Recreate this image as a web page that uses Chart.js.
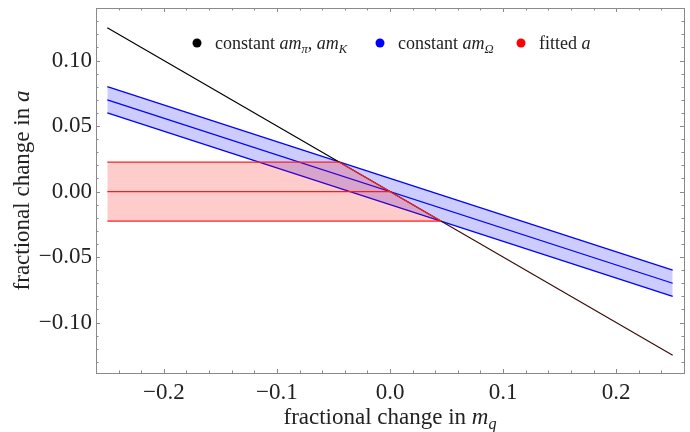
<!DOCTYPE html>
<html><head><meta charset="utf-8">
<script src="https://cdn.jsdelivr.net/npm/chart.js@4.4.1/dist/chart.umd.min.js"></script>
<style>html,body{margin:0;padding:0;background:#fff}canvas{display:block}</style>
</head><body>
<canvas id="c" width="690" height="432"></canvas>
<script>
// ---- data ----
const mqBlack = [-0.25, -0.045, 0.045, 0.25];          // fractional change in m_q
const constPiK = [0.125, 0.0225, -0.0225, -0.125];    // constant am_pi, am_K
const mqOmega = [-0.25, 0.25];
const omegaCenter = [0.07, -0.07];                    // constant am_Omega
const omegaUpper = [0.08, -0.06];
const omegaLower = [0.06, -0.08];
const fitEdgeX = [-0.25, -0.045, 0.045];              // fitted a, upper edge meeting the black line
const fitEdgeY = [0.0225, 0.0225, -0.0225];
const fitCenterX = [-0.25, 0];
const fitCenterY = [0, 0];
const fitLowerX = [-0.25, 0.045];
const fitLowerY = [-0.0225, -0.0225];
const xTicks = [-0.2, -0.1, 0, 0.1, 0.2];
const yTicks = [-0.1, -0.05, 0, 0.05, 0.1];

const pts = (xs, ys) => xs.map((x, i) => ({x, y: ys[i]}));
const SERIF = "'Liberation Serif', 'DejaVu Serif', serif";
const fmt = d => v => (v < 0 ? '\u2212' : '') + Math.abs(v).toFixed(d);

const base = {showLine: true, pointRadius: 0, tension: 0, fill: false};
const RED = '#ff2020', BLUE = '#0000ff';

function drawRuns(ctx, runs, x, y, size, align) {
  let w = 0;
  const meas = runs.map(r => {
    const s = r.sub ? size * 0.7 : size;
    ctx.font = (r.it ? 'italic ' : '') + s + 'px ' + SERIF;
    const m = ctx.measureText(r.t).width; w += m; return {r, s, m};
  });
  let cx = align === 'center' ? x - w / 2 : x;
  ctx.textAlign = 'left'; ctx.textBaseline = 'alphabetic';
  for (const {r, s, m} of meas) {
    ctx.font = (r.it ? 'italic ' : '') + s + 'px ' + SERIF;
    ctx.fillText(r.t, cx, y + (r.sub ? size * 0.22 : 0));
    cx += m;
  }
}

const framePlugin = {
  id: 'frame',
  afterDraw(chart) {
    const {ctx, chartArea: a, scales: {x, y}} = chart;
    ctx.save();
    ctx.strokeStyle = '#8a8a8a'; ctx.lineWidth = 1;
    ctx.strokeRect(Math.round(a.left) + 0.5, Math.round(a.top) + 0.5, Math.round(a.right - a.left), Math.round(a.bottom - a.top));
    ctx.beginPath();
    for (let k = -13; k <= 13; k++) {
      const v = k * 0.02, px = Math.round(x.getPixelForValue(v)) + 0.5;
      const L = (k % 5 === 0) ? 4 : 2.5;
      ctx.moveTo(px, a.bottom); ctx.lineTo(px, a.bottom - L);
      ctx.moveTo(px, a.top); ctx.lineTo(px, a.top + L);
    }
    for (let k = -13; k <= 14; k++) {
      const v = k * 0.01, py = Math.round(y.getPixelForValue(v)) + 0.5;
      if (py < a.top || py > a.bottom) continue;
      const L = (k % 5 === 0) ? 4 : 2.5;
      ctx.moveTo(a.left, py); ctx.lineTo(a.left + L, py);
      ctx.moveTo(a.right, py); ctx.lineTo(a.right - L, py);
    }
    ctx.stroke();
    ctx.fillStyle = '#222';
    // axis titles
    drawRuns(ctx, [{t: 'fractional change in '}, {t: 'm', it: true}, {t: 'q', it: true, sub: true}], (a.left + a.right) / 2, 424, 23, 'center');
    ctx.save();
    ctx.translate(29, (a.top + a.bottom) / 2);
    ctx.rotate(-Math.PI / 2);
    drawRuns(ctx, [{t: 'fractional change in '}, {t: 'a', it: true}], 0, 0, 23, 'center');
    ctx.restore();
    // legend
    const items = [
      {c: '#000', x: 197, runs: [{t: 'constant '}, {t: 'am', it: true}, {t: '\u03c0', it: true, sub: true}, {t: ', '}, {t: 'am', it: true}, {t: 'K', it: true, sub: true}]},
      {c: '#0000ff', x: 380, runs: [{t: 'constant '}, {t: 'am', it: true}, {t: '\u03a9', it: true, sub: true}]},
      {c: '#ff0000', x: 521, runs: [{t: 'fitted '}, {t: 'a', it: true}]}
    ];
    for (const it of items) {
      ctx.fillStyle = it.c;
      ctx.beginPath(); ctx.arc(it.x, 43, 4.5, 0, Math.PI * 2); ctx.fill();
      ctx.fillStyle = '#222';
      drawRuns(ctx, it.runs, it.x + 18, 49, 18, 'left');
    }
    ctx.restore();
  }
};

new Chart(document.getElementById('c'), {
  type: 'scatter',
  data: {
    datasets: [
      {...base, data: pts(fitEdgeX, fitEdgeY), borderColor: RED, borderWidth: 1.2,
        fill: {value: -0.0225}, backgroundColor: 'rgba(255,0,0,0.2)'},
      {...base, data: pts(fitCenterX, fitCenterY), borderColor: RED, borderWidth: 1.2},
      {...base, data: pts(fitLowerX, fitLowerY), borderColor: RED, borderWidth: 1.2},
      {...base, data: pts(mqBlack, constPiK), borderColor: '#000', borderWidth: 1.2,
        segment: {borderColor: c => c.p0.parsed.x > 0.04 ? '#3a0e0a' : '#000'}},
      {...base, data: pts(mqOmega, omegaUpper), borderColor: BLUE, borderWidth: 1.3,
        fill: '+2', backgroundColor: 'rgba(0,0,255,0.2)'},
      {...base, data: pts(mqOmega, omegaCenter), borderColor: BLUE, borderWidth: 1.3},
      {...base, data: pts(mqOmega, omegaLower), borderColor: BLUE, borderWidth: 1.3}
    ]
  },
  options: {
    responsive: false, animation: false, devicePixelRatio: 1,
    layout: {padding: {top: 8, right: 6, left: 0, bottom: 0}},
    plugins: {legend: {display: false}, tooltip: {enabled: false}},
    scales: {
      x: {type: 'linear', min: -0.26, max: 0.26,
        afterBuildTicks: s => { s.ticks = xTicks.map(v => ({value: v})); },
        afterFit: s => { s.height = 59; s.paddingLeft = 0; s.paddingRight = 0; },
        grid: {display: false, drawTicks: false, tickLength: 0}, border: {display: false},
        ticks: {callback: fmt(1), color: '#222', padding: 6, maxRotation: 0, autoSkip: false,
          font: {family: SERIF, size: 23}}},
      y: {type: 'linear', min: -0.1385, max: 0.1401,
        afterBuildTicks: s => { s.ticks = yTicks.map(v => ({value: v})); },
        afterFit: s => { s.width = 96; s.paddingTop = 0; s.paddingBottom = 0; },
        grid: {display: false, drawTicks: false, tickLength: 0}, border: {display: false},
        ticks: {callback: fmt(2), color: '#222', padding: 4, autoSkip: false,
          font: {family: SERIF, size: 23}}}
    }
  },
  plugins: [framePlugin]
});
</script>
</body></html>
